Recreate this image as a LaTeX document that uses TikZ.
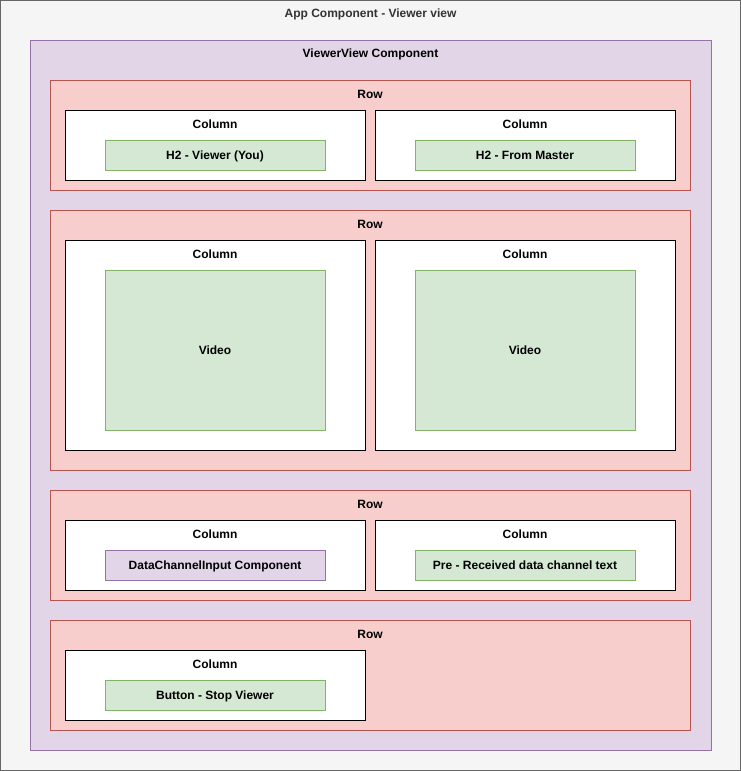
\documentclass[tikz,border=0pt]{standalone}
\usepackage{fontspec}
\setmainfont{Liberation Sans}
\definecolor{appfill}{HTML}{F5F5F5}
\definecolor{appdraw}{HTML}{666666}
\definecolor{apptext}{HTML}{333333}
\definecolor{viewfill}{HTML}{E1D5E7}
\definecolor{viewdraw}{HTML}{9673A6}
\definecolor{rowfill}{HTML}{F8CECC}
\definecolor{rowdraw}{HTML}{B85450}
\definecolor{itemfill}{HTML}{D5E8D4}
\definecolor{itemdraw}{HTML}{82B366}

\tikzset{
  box/.style={draw, line width=1pt, anchor=north west, inner sep=0pt, outer sep=0pt,
    font=\bfseries\fontsize{12}{14}\selectfont},
  appbox/.style={box, fill=appfill, draw=appdraw, minimum width=740pt, minimum height=770pt},
  viewbox/.style={box, fill=viewfill, draw=viewdraw, minimum width=681pt, minimum height=710pt},
  rowbox/.style={box, fill=rowfill, draw=rowdraw, minimum width=640pt, minimum height=110pt},
  colbox/.style={box, fill=white, draw=black, minimum width=300pt, minimum height=70pt},
  itembox/.style={box, fill=itemfill, draw=itemdraw, minimum width=220pt, minimum height=30pt,
    text depth=0pt},
  inputbox/.style={itembox, fill=viewfill, draw=viewdraw},
  boxtitle/.style={font=\bfseries\fontsize{12}{14}\selectfont, inner sep=0pt}
}

\begin{document}
\begin{tikzpicture}[x=1pt, y=-1pt]
\useasboundingbox (0,0) rectangle (741,771);
% outer boxes
\node[appbox] (app) at (0.5,0.5) {};
\node[boxtitle, text=apptext] (apptitle) at ([yshift=-14pt]app.north) {App Component - Viewer view};
\node[viewbox] (view) at (30,40) {};
\node[boxtitle] (viewtitle) at ([yshift=-14pt]view.north) {ViewerView Component};

% row 1: headings
\node[rowbox] (row1) at (50,80) {};
\node[boxtitle] (row1title) at ([yshift=-14pt]row1.north) {Row};
\node[colbox] (col11) at (65,110) {};
\node[boxtitle] at ([yshift=-14pt]col11.north) {Column};
\node[itembox] (h2you) at (105,140) {H2 - Viewer (You)};
\node[colbox] (col12) at (375,110) {};
\node[boxtitle] at ([yshift=-14pt]col12.north) {Column};
\node[itembox] (h2master) at (415,140) {H2 - From Master};

% row 2: videos
\node[rowbox, minimum height=260pt] (row2) at (50,210) {};
\node[boxtitle] (row2title) at ([yshift=-14pt]row2.north) {Row};
\node[colbox, minimum height=210pt] (col21) at (65,240) {};
\node[boxtitle] at ([yshift=-14pt]col21.north) {Column};
\node[itembox, minimum height=160pt] (video1) at (105,270) {Video};
\node[colbox, minimum height=210pt] (col22) at (375,240) {};
\node[boxtitle] at ([yshift=-14pt]col22.north) {Column};
\node[itembox, minimum height=160pt] (video2) at (415,270) {Video};

% row 3: data channel
\node[rowbox] (row3) at (50,490) {};
\node[boxtitle] (row3title) at ([yshift=-14pt]row3.north) {Row};
\node[colbox] (col31) at (65,520) {};
\node[boxtitle] at ([yshift=-14pt]col31.north) {Column};
\node[inputbox] (dcinput) at (105,550) {DataChannelInput Component};
\node[colbox] (col32) at (375,520) {};
\node[boxtitle] at ([yshift=-14pt]col32.north) {Column};
\node[itembox] (pretext) at (415,550) {Pre - Received data channel text};

% row 4: button
\node[rowbox] (row4) at (50,620) {};
\node[boxtitle] (row4title) at ([yshift=-14pt]row4.north) {Row};
\node[colbox] (col41) at (65,650) {};
\node[boxtitle] at ([yshift=-14pt]col41.north) {Column};
\node[itembox] (stopbtn) at (105,680) {Button - Stop Viewer};
\end{tikzpicture}
\end{document}
